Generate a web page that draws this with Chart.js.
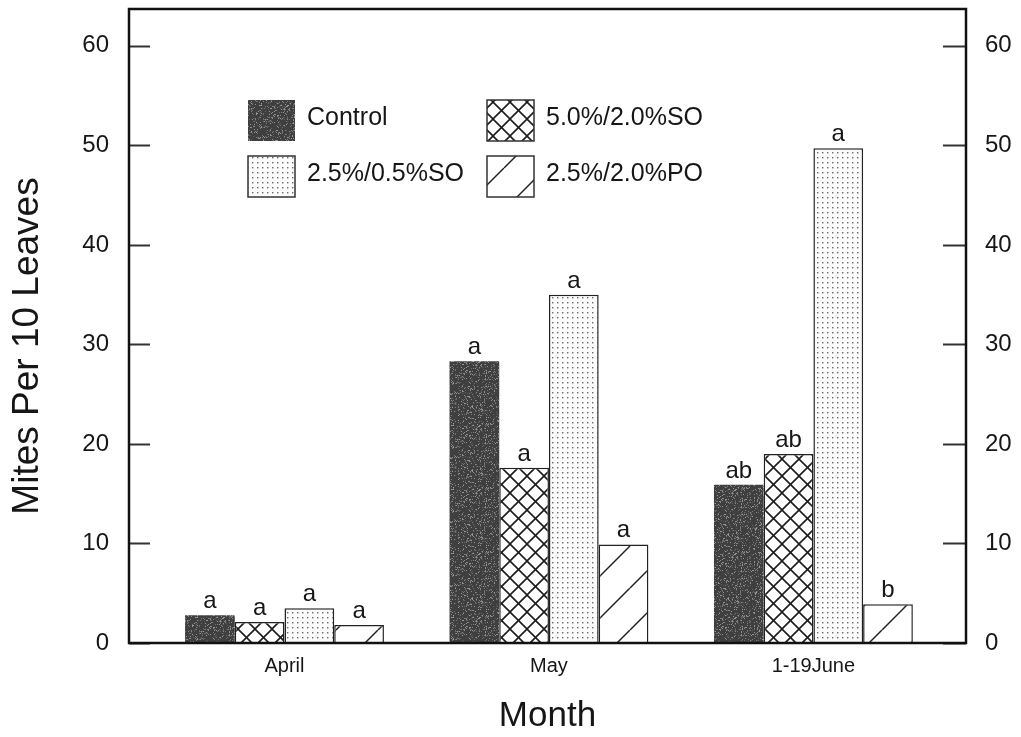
<!DOCTYPE html>
<html>
<head>
<meta charset="utf-8">
<script src="https://cdn.jsdelivr.net/npm/chart.js@4"></script>
<style>
html, body { margin: 0; padding: 0; background: #fff; }
</style>
</head>
<body>
<canvas id="myChart" width="1021" height="737"></canvas>
<script>
const months = ['April', 'May', '1-19June']
const treatments = ['Control', '5.0%/2.0%SO', '2.5%/0.5%SO', '2.5%/2.0%PO']
const control = [2.8, 28.3, 15.9]
const so5020 = [2.1, 17.6, 19.0]
const so2505 = [3.5, 35.0, 49.7]
const po2520 = [1.8, 9.9, 3.9]
const letters = [['a', 'a', 'ab'], ['a', 'a', 'ab'], ['a', 'a', 'a'], ['a', 'a', 'b']]
const yTicks = [0, 10, 20, 30, 40, 50, 60]

const FONT = '"Liberation Sans", Arial, sans-serif'
const INK = '#161616'

// fill patterns
function tile(w, h, draw) {
    const c = document.createElement('canvas')
    c.width = w
    c.height = h
    const g = c.getContext('2d')
    draw(g, w, h)
    return document.createElement('canvas').getContext('2d').createPattern(c, 'repeat')
}

const grainy = tile(64, 64, (g, w, h) => {
    g.fillStyle = '#3f3f3f'
    g.fillRect(0, 0, w, h)
    let s = 12345
    const rnd = () => { s = (s * 16807) % 2147483647; return s / 2147483647 }
    for (let i = 0; i < 900; i++) {
        const v = 85 + Math.floor(rnd() * 75)
        g.fillStyle = `rgb(${v},${v},${v})`
        g.fillRect(Math.floor(rnd() * w), Math.floor(rnd() * h), 1, 1)
    }
})

const crossHatch = tile(17, 17, (g, w, h) => {
    g.fillStyle = '#fff'
    g.fillRect(0, 0, w, h)
    g.strokeStyle = '#1c1c1c'
    g.lineWidth = 1.6
    for (const o of [-w, 0, w]) {
        g.beginPath(); g.moveTo(o, 0); g.lineTo(o + w, h); g.stroke()
        g.beginPath(); g.moveTo(o, h); g.lineTo(o + w, 0); g.stroke()
    }
})

const dots = tile(5, 5, (g, w, h) => {
    g.fillStyle = '#fbfbfb'
    g.fillRect(0, 0, w, h)
    g.fillStyle = '#6a6a6a'
    g.fillRect(2, 2, 1.4, 1.4)
})

const diag = tile(42, 42, (g, w, h) => {
    g.fillStyle = '#fff'
    g.fillRect(0, 0, w, h)
    g.strokeStyle = '#222'
    g.lineWidth = 1.5
    for (const o of [-w, 0, w]) {
        g.beginPath(); g.moveTo(o, h); g.lineTo(o + w, 0); g.stroke()
    }
})

const fills = [grainy, crossHatch, dots, diag]
const seriesValues = [control, so5020, so2505, po2520]

const datasets = treatments.map((name, k) => ({
    label: name,
    data: seriesValues[k].map((v, i) => ({x: i, y: v})),
    backgroundColor: fills[k],
    borderColor: k === 0 ? '#333' : '#222',
    borderWidth: k === 0 ? 0 : 1.5,
    categoryPercentage: 0.752,
    barPercentage: 1.0
}))

const decor = {
    id: 'decor',
    afterDatasetsDraw(chart) {
        const c = chart.ctx
        // letters over bars
        c.save()
        c.font = `24px ${FONT}`
        c.fillStyle = INK
        c.textAlign = 'center'
        c.textBaseline = 'alphabetic'
        chart.data.datasets.forEach((ds, k) => {
            chart.getDatasetMeta(k).data.forEach((bar, i) => {
                c.fillText(letters[k][i], bar.x, bar.y - 7)
            })
        })
        c.restore()
    },
    afterDraw(chart) {
        const c = chart.ctx
        const a = chart.chartArea
        const y = chart.scales.y
        c.save()
        // inward ticks on both sides
        c.strokeStyle = '#333'
        c.lineWidth = 2
        yTicks.forEach(v => {
            const py = Math.round(y.getPixelForValue(v)) + 0.5
            c.beginPath(); c.moveTo(a.left, py); c.lineTo(a.left + 21, py); c.stroke()
            c.beginPath(); c.moveTo(a.right - 23, py); c.lineTo(a.right, py); c.stroke()
        })
        // frame
        c.strokeStyle = '#111'
        c.lineWidth = 2.5
        c.strokeRect(a.left, a.top, a.right - a.left, a.bottom - a.top)

        // legend
        const cols = [248, 487]
        const rows = [100, 156]
        chart.data.datasets.forEach((ds, k) => {
            const lx = cols[k % 2]
            const ly = rows[Math.floor(k / 2)]
            c.fillStyle = ds.backgroundColor
            c.fillRect(lx, ly, 47, 41)
            if (ds.borderWidth) {
                c.strokeStyle = '#333'
                c.lineWidth = 1.5
                c.strokeRect(lx, ly, 47, 41)
            }
            c.fillStyle = INK
            c.font = `25px ${FONT}`
            c.textAlign = 'left'
            c.textBaseline = 'middle'
            c.fillText(ds.label, lx + 59, ly + 18)
        })

        // y title
        c.translate(28, 346)
        c.rotate(-Math.PI / 2)
        c.font = `37px ${FONT}`
        c.fillStyle = INK
        c.textAlign = 'center'
        c.textBaseline = 'middle'
        c.fillText('Mites Per 10 Leaves', 0, 0)
        c.restore()
    }
}

const yTickSetup = s => { s.ticks = yTicks.map(v => ({value: v})) }
const fitSide = w => s => {
    s.width = w
    s.paddingTop = 0
    s.paddingBottom = 0
}

new Chart(document.getElementById('myChart'), {
    type: 'bar',
    data: { datasets: datasets },
    options: {
        responsive: false,
        animation: false,
        layout: { padding: { top: 9, left: 0, right: 0, bottom: 0 } },
        plugins: {
            legend: { display: false },
            tooltip: { enabled: false }
        },
        scales: {
            x: {
                type: 'linear',
                offset: false,
                min: -0.588,
                max: 2.577,
                afterBuildTicks: s => { s.ticks = months.map((m, i) => ({value: i})) },
                afterFit: s => {
                    s.height = 94
                    s.paddingLeft = 0
                    s.paddingRight = 0
                },
                grid: { display: false, drawTicks: false },
                border: { display: false },
                ticks: {
                    autoSkip: false,
                    maxRotation: 0,
                    padding: 11,
                    color: INK,
                    font: { family: FONT, size: 20 },
                    callback: v => months[v]
                },
                title: {
                    display: true,
                    text: 'Month',
                    color: INK,
                    padding: 0,
                    font: { family: FONT, size: 35 }
                }
            },
            y: {
                min: 0,
                max: 63.7,
                afterBuildTicks: yTickSetup,
                afterFit: fitSide(129),
                grid: { display: false, drawTicks: false },
                border: { display: false },
                ticks: { padding: 20, color: INK, font: { family: FONT, size: 24 } }
            },
            y2: {
                position: 'right',
                min: 0,
                max: 63.7,
                afterBuildTicks: yTickSetup,
                afterFit: fitSide(55),
                grid: { display: false, drawTicks: false },
                border: { display: false },
                ticks: { padding: 19, color: INK, font: { family: FONT, size: 24 } }
            }
        }
    },
    plugins: [decor]
})
</script>
</body>
</html>
